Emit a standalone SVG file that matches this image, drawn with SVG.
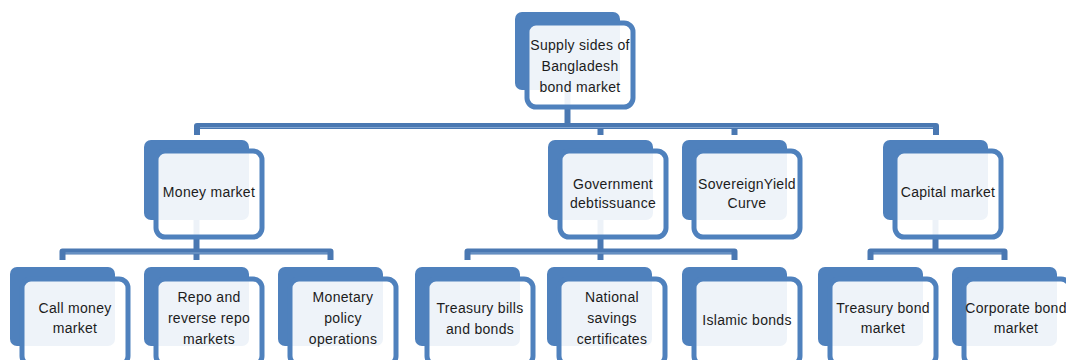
<svg xmlns="http://www.w3.org/2000/svg" width="1066" height="360" viewBox="0 0 1066 360">
<style>
.bk{fill:#4f81bd}
.fr{fill:#ffffff;fill-opacity:0.9;stroke:#4f81bd;stroke-width:5}
.cn{fill:none;stroke:#4a78b2;stroke-width:6;stroke-linejoin:round;stroke-linecap:butt}
.hl{fill:none;stroke:#8fb0da;stroke-width:1.2;opacity:0.8}
text{font-family:"Liberation Sans",Arial,sans-serif;font-size:14px;fill:#1c1c1c;text-anchor:middle;letter-spacing:0.3px}
</style>
<rect width="1066" height="360" fill="#ffffff"/>
<g id="connectors">
<path class="cn" d="M567.5 90 V126"/>
<path class="cn" d="M197 135 V126 H936 V135"/>
<path class="cn" d="M600.5 126 V135"/>
<path class="cn" d="M734.5 126 V135"/>
<path class="cn" d="M196.5 220 V260"/>
<path class="cn" d="M62.5 260 V251.5 H330.5 V260"/>
<path class="cn" d="M600.5 220 V260"/>
<path class="cn" d="M467.5 260 V251.5 H734.5 V260"/>
<path class="cn" d="M935.5 220 V251.5"/>
<path class="cn" d="M870.5 260 V251.5 H1004.5 V260"/>
<path class="hl" d="M200 127.5 H933 M65.5 253 H327.5 M470.5 253 H731.5 M873.5 253 H1001.5"/>
</g>
<g id="root">
<rect class="bk" x="515" y="12" width="105" height="78" rx="7"/>
<rect class="fr" x="527" y="23" width="106" height="84" rx="9"/>
<text x="580" y="50">Supply sides of</text>
<text x="580" y="71">Bangladesh</text>
<text x="580" y="92">bond market</text>
</g>
<g id="money-market">
<rect class="bk" x="144" y="140" width="105" height="80" rx="7"/>
<rect class="fr" x="156" y="151" width="106" height="86" rx="9"/>
<text x="209" y="197">Money market</text>
</g>
<g id="government-debt">
<rect class="bk" x="548" y="140" width="105" height="80" rx="7"/>
<rect class="fr" x="560" y="151" width="106" height="86" rx="9"/>
<text x="613" y="189">Government</text>
<text x="613" y="208">debtissuance</text>
</g>
<g id="sovereign-yield">
<rect class="bk" x="682" y="140" width="105" height="80" rx="7"/>
<rect class="fr" x="694" y="151" width="106" height="86" rx="9"/>
<text x="747" y="189">SovereignYield</text>
<text x="747" y="208">Curve</text>
</g>
<g id="capital-market">
<rect class="bk" x="883" y="140" width="105" height="80" rx="7"/>
<rect class="fr" x="895" y="151" width="106" height="86" rx="9"/>
<text x="948" y="197">Capital market</text>
</g>
<g id="call-money">
<rect class="bk" x="10" y="267" width="105" height="79" rx="7"/>
<rect class="fr" x="22" y="279" width="106" height="86" rx="9"/>
<text x="75" y="313">Call money</text>
<text x="75" y="333">market</text>
</g>
<g id="repo">
<rect class="bk" x="144" y="267" width="105" height="79" rx="7"/>
<rect class="fr" x="156" y="279" width="106" height="86" rx="9"/>
<text x="209" y="302">Repo and</text>
<text x="209" y="323">reverse repo</text>
<text x="209" y="344">markets</text>
</g>
<g id="monetary-policy">
<rect class="bk" x="278" y="267" width="105" height="79" rx="7"/>
<rect class="fr" x="290" y="279" width="106" height="86" rx="9"/>
<text x="343" y="302">Monetary</text>
<text x="343" y="323">policy</text>
<text x="343" y="344">operations</text>
</g>
<g id="treasury-bills">
<rect class="bk" x="415" y="267" width="105" height="79" rx="7"/>
<rect class="fr" x="427" y="279" width="106" height="86" rx="9"/>
<text x="480" y="313">Treasury bills</text>
<text x="480" y="334">and bonds</text>
</g>
<g id="national-savings">
<rect class="bk" x="547" y="267" width="105" height="79" rx="7"/>
<rect class="fr" x="559" y="279" width="106" height="86" rx="9"/>
<text x="612" y="302">National</text>
<text x="612" y="323">savings</text>
<text x="612" y="344">certificates</text>
</g>
<g id="islamic-bonds">
<rect class="bk" x="682" y="267" width="105" height="79" rx="7"/>
<rect class="fr" x="694" y="279" width="106" height="86" rx="9"/>
<text x="747" y="325">Islamic bonds</text>
</g>
<g id="treasury-bond-market">
<rect class="bk" x="818" y="267" width="105" height="79" rx="7"/>
<rect class="fr" x="830" y="279" width="106" height="86" rx="9"/>
<text x="883" y="313">Treasury bond</text>
<text x="883" y="333">market</text>
</g>
<g id="corporate-bond-market">
<rect class="bk" x="952" y="267" width="105" height="79" rx="7"/>
<rect class="fr" x="964" y="279" width="106" height="86" rx="9"/>
<text x="1016" y="313">Corporate bond</text>
<text x="1016" y="333">market</text>
</g>
</svg>
